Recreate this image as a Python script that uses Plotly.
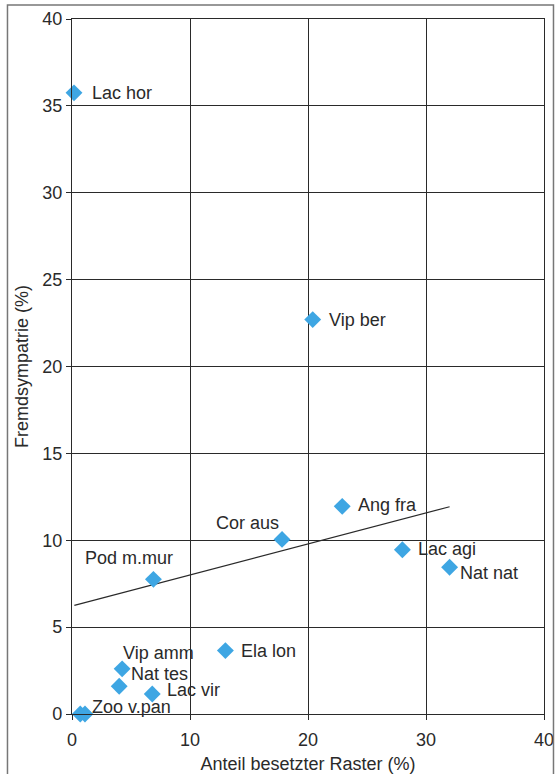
import plotly.graph_objects as go

# Species codes with share of occupied grid cells (x) and foreign sympatry (y), both in %
species = ["Lac hor", "Vip ber", "Ang fra", "Cor aus", "Lac agi", "Nat nat",
           "Pod m.mur", "Ela lon", "Vip amm", "Nat tes", "Lac vir", "", "Zoo v.pan"]
anteil = [0.17, 20.4, 22.9, 17.8, 28.0, 32.0, 6.9, 13.0, 4.25, 4.0, 6.8, 0.7, 1.1]
fremd = [35.75, 22.7, 11.95, 10.05, 9.45, 8.45, 7.75, 3.65, 2.6, 1.6, 1.15, 0.0, 0.0]

# Trend line end points
trend_x = [0.2, 32.0]
trend_y = [6.25, 11.93]

x_ticks = [0, 10, 20, 30, 40]
y_ticks = [0, 5, 10, 15, 20, 25, 30, 35, 40]

# Label placement (anchor, x shift px, y shift px) per species
label_place = {
    "Lac hor": ("left", 16, 0),
    "Vip ber": ("left", 14, 0),
    "Ang fra": ("left", 14, 1),
    "Cor aus": ("right", -1, 16),
    "Lac agi": ("left", 14, 1),
    "Nat nat": ("left", 8, -6),
    "Pod m.mur": ("right", 22, 21),
    "Ela lon": ("left", 14, 0),
    "Vip amm": ("left", -1, 16),
    "Nat tes": ("left", 10, 12),
    "Lac vir": ("left", 13, 4),
    "Zoo v.pan": ("left", 5, 7),
}

FONT = "Liberation Sans, Arial, sans-serif"
INK = "#2a2a2a"
FS = 18

fig = go.Figure()
fig.add_trace(go.Scatter(x=trend_x, y=trend_y, mode="lines",
                         line=dict(color=INK, width=1.2), hoverinfo="skip"))
fig.add_trace(go.Scatter(x=anteil, y=fremd, mode="markers",
                         marker=dict(symbol="diamond", size=13, color="#3ea6e3",
                                     line=dict(width=0)),
                         cliponaxis=False, text=species))

for name, xv, yv in zip(species, anteil, fremd):
    if not name:
        continue
    anchor, dx, dy = label_place[name]
    fig.add_annotation(x=xv, y=yv, text=name, showarrow=False,
                       xanchor=anchor, yanchor="middle", xshift=dx, yshift=dy,
                       font=dict(family=FONT, size=FS, color=INK))

# Outer frame around the figure
fig.add_shape(type="rect", xref="paper", yref="paper",
              x0=-0.1367, x1=1.0201, y0=-0.12, y1=1.0201,
              line=dict(color="#777777", width=1.5), layer="above")

axis_common = dict(showgrid=True, gridcolor=INK, gridwidth=1.1,
                   showline=True, linecolor=INK, linewidth=1.2, mirror=True,
                   ticks="outside", ticklen=5, tickcolor=INK, zeroline=False,
                   tickfont=dict(family=FONT, size=FS, color=INK))

fig.update_xaxes(range=[0, 40], tickvals=x_ticks, ticklabelstandoff=4,
                 title=dict(text="Anteil besetzter Raster (%)", standoff=8,
                            font=dict(family=FONT, size=FS, color=INK)),
                 **axis_common)
fig.update_yaxes(range=[0, 40], tickvals=y_ticks,
                 title=dict(text="Fremdsympatrie (%)", standoff=8,
                            font=dict(family=FONT, size=FS, color=INK)),
                 **axis_common)

fig.update_layout(width=556, height=774, showlegend=False,
                  margin=dict(l=72, r=12, t=19, b=60, autoexpand=False),
                  paper_bgcolor="white", plot_bgcolor="white")

fig.write_html("out.html")
